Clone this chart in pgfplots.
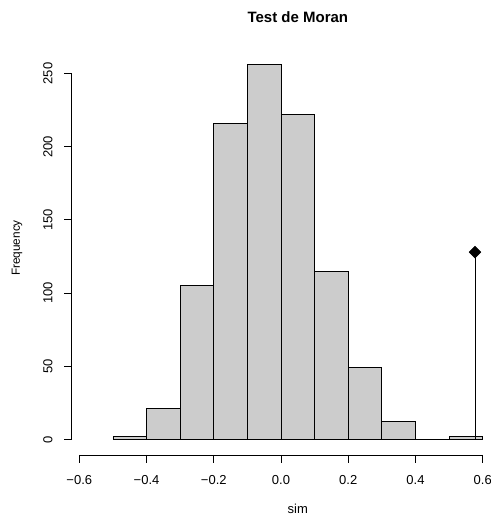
\documentclass[border=0pt]{standalone}
\usepackage{pgfplots}
\pgfplotsset{compat=1.18}
\usepackage{fontspec}
\setmainfont{Liberation Sans}
\definecolor{histgray}{RGB}{204,204,204}
\newcommand{\tk}{\fontsize{13bp}{15bp}\selectfont}
\begin{document}
\begin{tikzpicture}
\begin{axis}[scale only axis, width=491bp, height=515bp,
  xmin=-0.8359, xmax=0.6246, ymin=-51.6, ymax=300.2,
  hide axis, clip=false]
\coordinate (bl) at (rel axis cs:0,0);
\coordinate (tr) at (rel axis cs:1,1);
\addplot[ybar interval, fill=histgray, draw=black, line width=0.8bp] coordinates {
(-0.5,2) (-0.4,21) (-0.3,105) (-0.2,216) (-0.1,256) (0,222) (0.1,115) (0.2,49) (0.3,12) (0.4,0) (0.5,2) (0.6,2)};
\addplot[black, line width=0.8bp, mark=none] coordinates {(0.577,0) (0.577,128)};
\addplot[only marks, mark=square*, mark options={rotate=45, fill=black, draw=black}, mark size=4.2bp] coordinates {(0.577,128)};
% x axis
\draw[line width=0.8bp] (axis cs:-0.6,-10.6) -- (axis cs:0.6,-10.6);
\draw[line width=0.8bp] (axis cs:-0.6,-10.6) -- (axis cs:-0.6,-16.05);
\draw[line width=0.8bp] (axis cs:-0.4,-10.6) -- (axis cs:-0.4,-16.05);
\draw[line width=0.8bp] (axis cs:-0.2,-10.6) -- (axis cs:-0.2,-16.05);
\draw[line width=0.8bp] (axis cs:0,-10.6) -- (axis cs:0,-16.05);
\draw[line width=0.8bp] (axis cs:0.2,-10.6) -- (axis cs:0.2,-16.05);
\draw[line width=0.8bp] (axis cs:0.4,-10.6) -- (axis cs:0.4,-16.05);
\draw[line width=0.8bp] (axis cs:0.6,-10.6) -- (axis cs:0.6,-16.05);
\node[inner sep=0pt] at (axis cs:-0.6,-27.7) {\tk −0.6};
\node[inner sep=0pt] at (axis cs:-0.4,-27.7) {\tk −0.4};
\node[inner sep=0pt] at (axis cs:-0.2,-27.7) {\tk −0.2};
\node[inner sep=0pt] at (axis cs:0,-27.7) {\tk 0.0};
\node[inner sep=0pt] at (axis cs:0.2,-27.7) {\tk 0.2};
\node[inner sep=0pt] at (axis cs:0.4,-27.7) {\tk 0.4};
\node[inner sep=0pt] at (axis cs:0.6,-27.7) {\tk 0.6};
% y axis
\draw[line width=0.8bp] (axis cs:-0.6226,0) -- (axis cs:-0.6226,250);
\draw[line width=0.8bp] (axis cs:-0.6226,0) -- (axis cs:-0.6470,0);
\draw[line width=0.8bp] (axis cs:-0.6226,50) -- (axis cs:-0.6470,50);
\draw[line width=0.8bp] (axis cs:-0.6226,100) -- (axis cs:-0.6470,100);
\draw[line width=0.8bp] (axis cs:-0.6226,150) -- (axis cs:-0.6470,150);
\draw[line width=0.8bp] (axis cs:-0.6226,200) -- (axis cs:-0.6470,200);
\draw[line width=0.8bp] (axis cs:-0.6226,250) -- (axis cs:-0.6470,250);
\node[inner sep=0pt, rotate=90] at (axis cs:-0.6931,0) {\tk 0};
\node[inner sep=0pt, rotate=90] at (axis cs:-0.6931,50) {\tk 50};
\node[inner sep=0pt, rotate=90] at (axis cs:-0.6931,100) {\tk 100};
\node[inner sep=0pt, rotate=90] at (axis cs:-0.6931,150) {\tk 150};
\node[inner sep=0pt, rotate=90] at (axis cs:-0.6931,200) {\tk 200};
\node[inner sep=0pt, rotate=90] at (axis cs:-0.6931,250) {\tk 250};
\node[inner sep=0pt] at (axis cs:0.050,288.3) {\fontsize{15bp}{18bp}\selectfont\bfseries Test de Moran};
\node[inner sep=0pt] at (axis cs:0.050,-47.5) {\tk sim};
\node[inner sep=0pt, rotate=90] at (axis cs:-0.7853,130.8) {\fontsize{11.8bp}{14bp}\selectfont Frequency};
\end{axis}
\pgfresetboundingbox
\path[use as bounding box] (bl) rectangle (tr);
\end{tikzpicture}
\end{document}
